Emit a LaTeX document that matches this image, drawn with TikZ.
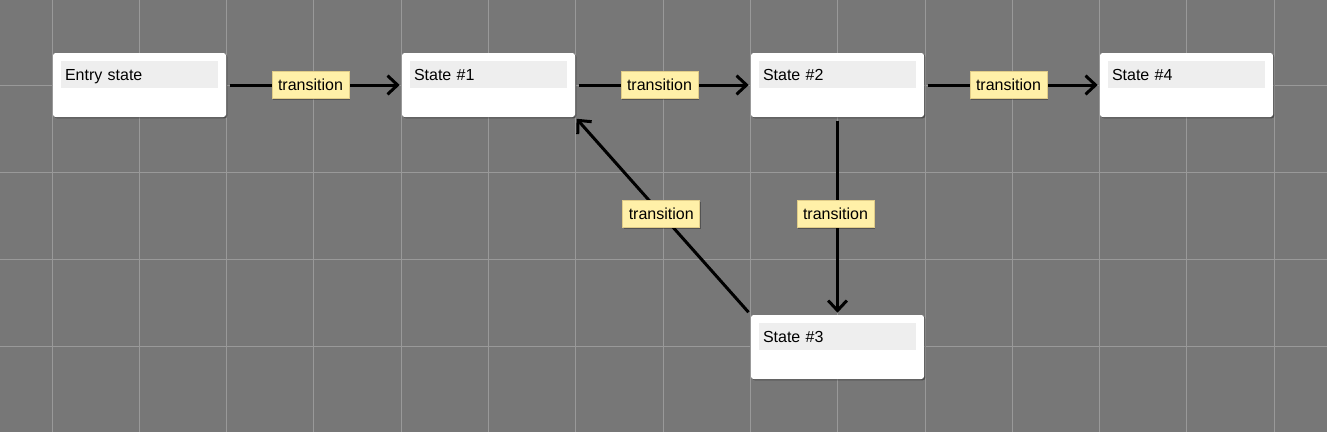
\documentclass[tikz,border=0pt]{standalone}
\usepackage{fontspec}
\setmainfont{Liberation Sans}
\usetikzlibrary{arrows.meta,shadows}
\definecolor{bg}{HTML}{777777}
\definecolor{gridc}{HTML}{999999}
\definecolor{hdr}{HTML}{EEEEEE}
\definecolor{lblfill}{HTML}{FFF0A8}
\definecolor{lbldraw}{HTML}{E0CC88}
\tikzset{
  statebox/.style={draw=none, fill=white, rounded corners=2pt, minimum width=129.75pt, minimum height=48pt, inner sep=0pt,
    drop shadow={shadow xshift=1pt, shadow yshift=-1pt, opacity=0.35, fill=black}},
  hdrbox/.style={fill=hdr, minimum width=117.75pt, minimum height=20.25pt, inner sep=3pt, anchor=north west, text width=111.75pt, align=left, text height=8.6pt, text depth=0pt, font=\fontsize{12pt}{14pt}\selectfont},
  lbl/.style={fill=lblfill, draw=lbldraw, line width=0.5pt, inner xsep=4.5pt, inner ysep=0pt, minimum height=20.25pt, text height=8.6pt, text depth=0pt, font=\fontsize{12pt}{14pt}\selectfont, text=black,
    drop shadow={shadow xshift=1pt, shadow yshift=-1pt, opacity=0.3, fill=black}},
  conn/.style={line width=2.25pt, draw=black, -{Straight Barb[length=7.5pt,width=14pt,line width=2.25pt]}, shorten <=2.5pt, shorten >=1.5pt}
}
\begin{document}
\begin{tikzpicture}[x=0.75pt,y=-0.75pt]
\fill[bg] (0,0) rectangle (1327,432);
\useasboundingbox (0,0) rectangle (1327,432);
\foreach \i in {0,...,14} {\draw[gridc, line width=0.75pt] ({52+87.3*\i},0) -- ({52+87.3*\i},432);}
\foreach \j in {0,...,4} {\draw[gridc, line width=0.75pt] (0,{-2.3+87.3*\j}) -- (1327,{-2.3+87.3*\j});}

\node[statebox] (e) at (139.5,85) {};
\node[statebox] (s1) at (488.5,85) {};
\node[statebox] (s2) at (837.5,85) {};
\node[statebox] (s4) at (1186.5,85) {};
\node[statebox] (s3) at (837.5,347) {};

\node[hdrbox] (eh) at ([xshift=6pt,yshift=-6pt]e.north west) {Entry state};
\node[hdrbox] (s1h) at ([xshift=6pt,yshift=-6pt]s1.north west) {State \#1};
\node[hdrbox] (s2h) at ([xshift=6pt,yshift=-6pt]s2.north west) {State \#2};
\node[hdrbox] (s4h) at ([xshift=6pt,yshift=-6pt]s4.north west) {State \#4};
\node[hdrbox] (s3h) at ([xshift=6pt,yshift=-6pt]s3.north west) {State \#3};

\draw[conn] (e.east) -- node[lbl, pos=0.48] (l1) {transition} (s1.west);
\draw[conn] (s1.east) -- node[lbl, pos=0.48] (l2) {transition} (s2.west);
\draw[conn] (s2.east) -- node[lbl, pos=0.48] (l3) {transition} (s4.west);
\draw[conn] (s2.south) -- node[lbl, pos=0.49, xshift=-1.5pt] (l4) {transition} (s3.north);
\draw[conn] (s3.north west) -- node[lbl, pos=0.51] (l5) {transition} (s1.south east);
\end{tikzpicture}
\end{document}
